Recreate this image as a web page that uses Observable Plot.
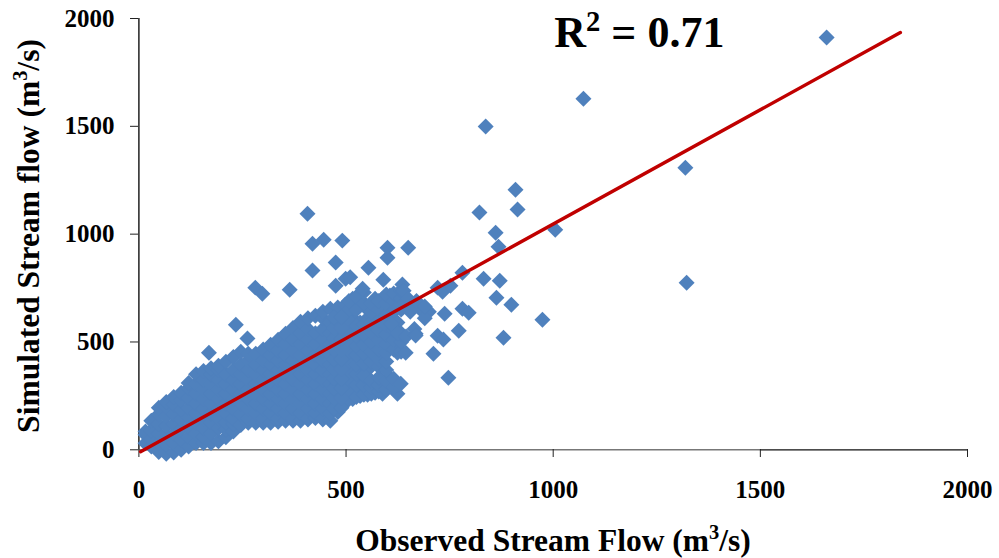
<!DOCTYPE html>
<html>
<head>
<meta charset="utf-8">
<script src="https://cdn.jsdelivr.net/npm/d3@7"></script>
<script src="https://cdn.jsdelivr.net/npm/@observablehq/plot@0.6"></script>
<style>html,body{margin:0;padding:0;background:#fff}svg{display:block}</style>
</head>
<body>
<div id="chart"></div>
<script>
const xTicks = [0, 500, 1000, 1500, 2000];
const yTicks = [0, 500, 1000, 1500, 2000];
const xLabel = "Observed Stream Flow (m³/s)";
const yLabel = "Simulated Stream flow (m³/s)";
const r2Label = "R² = 0.71";

// Dense cloud
const cloudObserved = [16,30,48,66,84,102,120,138,156,174,192,210,228,246,264,282,300,318,336,354,372,390,408,426,444,462,480,498,516,534,552,570,588,606,624,507,525,543,561,579,597,615,633,471,489];
const cloudSimulated = [
  [30,70,85],
  [15,50,90,135],
  [-10,30,75,120,165,195],
  [-18,25,65,110,155,200,222],
  [-12,30,75,120,165,210,245],
  [0,45,95,140,185,230,265],
  [15,60,105,150,195,240,285,310],
  [32,75,125,170,215,260,305,350],
  [32,60,100,145,190,235,280,325,365],
  [32,75,125,170,215,260,305,350,378],
  [40,100,145,190,235,280,325,370,390],
  [58,95,125,170,215,260,305,350,408],
  [85,120,145,190,235,280,325,370,430],
  [115,165,215,260,305,350,395,455],
  [125,145,190,235,280,325,370,415,445],
  [125,170,215,260,305,350,395,445],
  [125,145,190,235,280,325,370,415,465],
  [125,170,215,260,305,350,395,440,487],
  [130,145,190,235,280,325,370,415,460,510],
  [135,170,215,260,305,350,395,440,490,538],
  [135,145,190,235,280,325,370,415,460,510,565],
  [135,170,215,260,305,350,395,440,490,540,594],
  [140,145,190,235,280,325,370,415,460,510,560,610],
  [148,170,215,260,305,350,395,440,490,540,622],
  [140,145,190,235,280,325,370,415,460,510,560,610,640],
  [135,170,215,260,305,350,395,440,490,540,590,654],
  [175,215,260,305,350,395,440,490,540,590,660],
  [218,260,305,350,395,440,490,540,590,625,673],
  [235,285,330,375,420,465,510,560,610,660,700],
  [250,295,345,395,440,490,540,590,695],
  [255,310,370,420,465,510,560,610,650],
  [264,300,415,460,510,555,605,700],
  [260,290,450,510,555,600,660,700],
  [311,334,470,520,570,625,715],
  [260,300,450,520,590,700],
  [235,275,320,365,410,455,500,545,600,650,690],
  [245,300,350,395,440,480,530,575,650,710],
  [255,300,345,400,445,490,535,580,680,730],
  [260,290,320,410,455,500,545,590,640,680],
  [270,300,335,385,420,465,510,555,600,650,690],
  [280,320,370,410,450,490,535,580,625,680,720],
  [290,330,465,510,555,600,645,690,725],
  [455,500,540,650,700,740],
  [190,240,285,330,375,420,465,515,565,615],
  [195,240,285,330,375,420,465,515,565,615]
];

// Separately readable diamonds
const pointObserved = [1660,1073,837,1319,1322,1005,909,914,822,861,868,781,832,871,863,899,974,880,781,796,772,747,711,721,735,738,733,752,721,692,668,644,632,407,419,446,491,419,475,600,600,650,554,475,499,590,636,639,540,510,281,298,364,169,234,262,640,660,680,700,620,610,625,645,665,668,690,650,670,690,655];
const pointSimulated = [1912,1628,1499,1308,775,1020,1206,1114,1100,1007,942,821,793,784,705,673,603,520,654,636,552,334,445,529,511,631,733,761,752,654,538,450,306,1095,956,974,970,831,868,937,891,937,844,761,793,789,766,738,747,800,752,724,742,450,580,516,680,665,650,640,650,585,540,525,560,530,610,700,690,665,640];

const trendObserved = [4, 1838];
const trendSimulated = [-9, 1935];

const cloud = cloudObserved.flatMap((x, i) => cloudSimulated[i].map(y => ({x, y})));
const points = pointObserved.map((x, i) => ({x, y: pointSimulated[i]}));
const all = cloud.concat(points);
const trend = trendObserved.map((x, i) => ({x, y: trendSimulated[i]}));

const font = "'Liberation Serif', serif";
const plot = Plot.plot({
  width: 999,
  height: 558,
  marginLeft: 138,
  marginRight: 32,
  marginTop: 18,
  marginBottom: 109,
  style: {fontFamily: font, background: "#fff", overflow: "visible"},
  x: {domain: [0, 2000], range: [138.4, 967]},
  y: {domain: [0, 2000], range: [449.3, 18]},
  marks: [
    Plot.ruleX([0], {y1: 0, y2: 2000, stroke: "#111", strokeWidth: 1.4}),
    Plot.ruleY([0], {x1: 0, x2: 1500, stroke: "#777", strokeWidth: 1.6}),
    Plot.ruleY([0], {x1: 1500, x2: 2000, stroke: "#111", strokeWidth: 1.3}),
    Plot.axisX({ticks: xTicks, tickFormat: d => String(d), tickSize: 8, tickPadding: 23, label: null, fontSize: 25, fontWeight: "bold", fill: "#000", stroke: "#222"}),
    Plot.axisY({ticks: yTicks, tickFormat: d => String(d), tickSize: 8, tickPadding: 16, label: null, fontSize: 25, fontWeight: "bold", fill: "#000", stroke: "#222"}),
    Plot.dot(all, {x: "x", y: "y", symbol: "diamond2", r: 7.2, fill: "#4f81bd", stroke: "none"}),
    Plot.line(trend, {x: "x", y: "y", stroke: "#c00000", strokeWidth: 3.4}),
    Plot.text([r2Label], {x: 1208, y: 1935, text: d => d, fontSize: 44, fontWeight: "bold", fill: "#000", fontFamily: font}),
    Plot.text([xLabel], {frameAnchor: "bottom", dy: 101, text: d => d, fontSize: 31.5, fontWeight: "bold", fill: "#000", fontFamily: font}),
    Plot.text([yLabel], {frameAnchor: "left", textAnchor: "middle", dx: -110, dy: 2, rotate: -90, text: d => d, fontSize: 31.5, fontWeight: "bold", fill: "#000", fontFamily: font})
  ]
});
document.getElementById("chart").append(plot);
// Set the exponents as real superscripts
const sups = {"²": "2", "³": "3"};
d3.select(plot).selectAll("text").each(function () {
  const s = this.textContent;
  const m = s.match(/[²³]/);
  if (!m) return;
  const [a, b] = s.split(m[0]);
  const t = d3.select(this).text(a);
  t.append("tspan").attr("dy", "-0.55em").attr("font-size", "0.65em").text(sups[m[0]]);
  t.append("tspan").attr("dy", "0.358em").text(b);
});
</script>
</body>
</html>
